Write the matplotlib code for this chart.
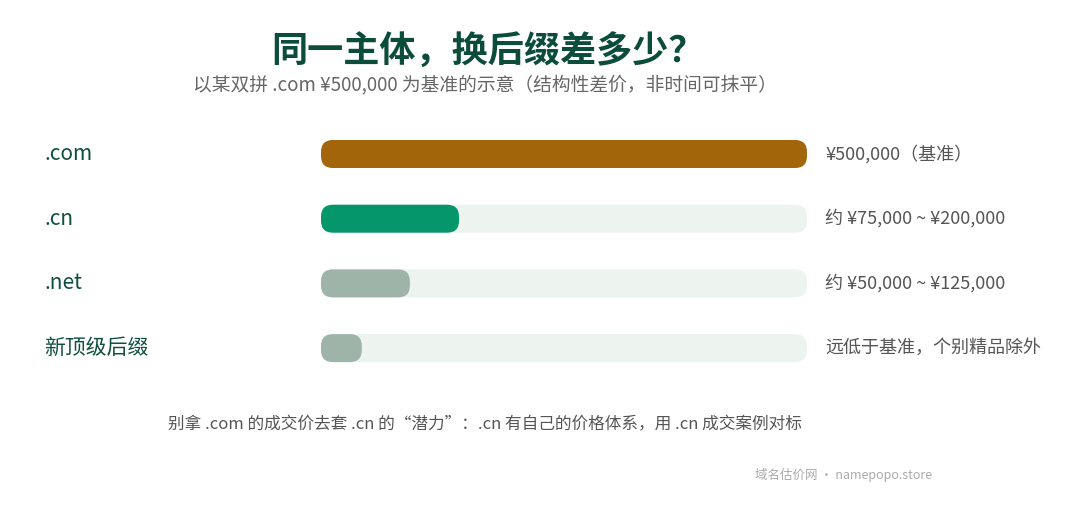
import matplotlib
matplotlib.use("Agg")
import matplotlib.pyplot as plt
from matplotlib.patches import FancyBboxPatch

plt.rcParams['font.family'] = ['Noto Sans CJK SC', 'DejaVu Sans']

categories = [".com", ".cn", ".net", "新顶级后缀"]
values = [100, 28.4, 18.3, 8.4]
value_labels = ["¥500,000（基准）", "约 ¥75,000 ~ ¥200,000", "约 ¥50,000 ~ ¥125,000", "远低于基准，个别精品除外"]
colors = ["#a3650a", "#05966b", "#9fb4a9", "#9fb4a9"]

W, H = 1083, 512
fig = plt.figure(figsize=(W/100, H/100), dpi=100)
fig.patch.set_facecolor("white")

ax_l, ax_w = 321, 486
row_h = 64.7
ax_top = 154 - row_h/2
ax = fig.add_axes([ax_l/W, 1 - (ax_top + 4*row_h)/H, ax_w/W, 4*row_h/H])
ax.set_xlim(0, 100)
ax.set_ylim(3.5, -0.5)
ax.axis("off")

px_x = ax_w/100
bh = 28/row_h
r = 12/px_x
asp = px_x/row_h
for i, (c, v, col) in enumerate(zip(categories, values, colors)):
    bg = FancyBboxPatch((0, i - bh/2), 100, bh, boxstyle=f"round,pad=0,rounding_size={r}",
                        mutation_aspect=asp, fc="#edf4ef", ec="none")
    ax.add_patch(bg)
    fg = FancyBboxPatch((0, i - bh/2), v, bh, boxstyle=f"round,pad=0,rounding_size={r}",
                        mutation_aspect=asp, fc=col, ec="none")
    ax.add_patch(fg)
    fig.text(44/W, 1 - (154 + i*row_h)/H, c, fontsize=15, color="#0f4f3c", va="center", ha="left")
    fig.text(825/W, 1 - (154 + i*row_h)/H, value_labels[i], fontsize=13, color="#555555", va="center", ha="left")

fig.text(488/W, 1 - 52/H, "同一主体，换后缀差多少？", fontsize=26, fontweight="bold", color="#0b4d3a", ha="center", va="center")
fig.text(485/W, 1 - 85/H, "以某双拼 .com ¥500,000 为基准的示意（结构性差价，非时间可抹平）", fontsize=13.5, color="#666666", ha="center", va="center")
fig.text(168/W, 1 - 425/H, "别拿 .com 的成交价去套 .cn 的“潜力”：.cn 有自己的价格体系，用 .cn 成交案例对标", fontsize=12, color="#555555", ha="left", va="center")
fig.text(755/W, 1 - 475/H, "域名估价网 · namepopo.store", fontsize=9, color="#aaaaaa", ha="left", va="center")

fig.savefig("out.png", dpi=100, facecolor="white")
